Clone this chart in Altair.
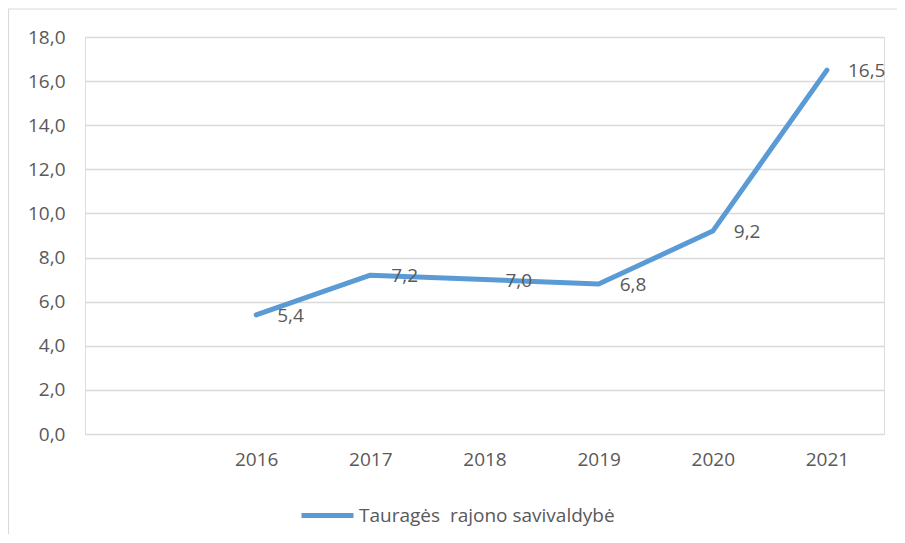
import altair as alt
import pandas as pd

years = ["2016", "2017", "2018", "2019", "2020", "2021"]
values = [5.4, 7.2, 7.0, 6.8, 9.2, 16.5]
series_name = "Tauragės\u00a0 rajono savivaldybė"
x_domain = [""] + years
y_ticks = [0, 2, 4, 6, 8, 10, 12, 14, 16, 18]

df = pd.DataFrame({"year": years, "value": values, "series": series_name})

FONT = "Open Sans"
FS = 19
TXT = "#595959"
GRID = "#D9D9D9"
BLUE = "#5B9BD5"

x_enc = alt.X(
    "year:N",
    scale=alt.Scale(domain=x_domain, type="point", padding=0.5),
    axis=alt.Axis(title=None, labelAngle=0, ticks=False, domain=False, grid=False,
                  labelFont=FONT, labelFontSize=FS, labelColor=TXT, labelPadding=16),
)
y_enc = alt.Y(
    "value:Q",
    scale=alt.Scale(domain=[0, 18], nice=False, zero=True),
    axis=alt.Axis(title=None, values=y_ticks, ticks=False, domain=False,
                  gridColor=GRID, gridWidth=1.3,
                  labelExpr="replace(format(datum.value, '.1f'), '.', ',')",
                  labelFont=FONT, labelFontSize=FS, labelColor=TXT, labelPadding=20),
)

border = alt.Chart(pd.DataFrame({"a": [0]})).mark_rect(
    fill=None, stroke=GRID, strokeWidth=1.2
).encode(
    x=alt.value(-76.5), x2=alt.value(830), y=alt.value(-28), y2=alt.value(600)
)

line = alt.Chart(df).mark_line(strokeWidth=5, strokeCap="round", strokeJoin="round").encode(
    x=x_enc,
    y=y_enc,
    color=alt.Color(
        "series:N",
        scale=alt.Scale(range=[BLUE]),
        legend=alt.Legend(
            title=None, orient="none", legendX=214, legendY=450,
            symbolType="stroke", symbolSize=2704, symbolStrokeWidth=5,
            labelFont=FONT, labelFontSize=FS, labelColor=TXT, labelOffset=3,
            labelLimit=0,
        ),
    ),
)

labels = alt.Chart(df).transform_calculate(
    lab="replace(format(datum.value, '.1f'), '.', ',')"
).mark_text(
    align="left", baseline="middle", dx=21, dy=1, font=FONT, fontSize=FS, color=TXT
).encode(x=x_enc, y=y_enc, text="lab:N")

chart = alt.layer(border, line, labels).properties(
    width=799, height=397,
    padding={"left": 77, "top": 29, "right": 13, "bottom": 100},
    autosize=alt.AutoSizeParams(type="none"),
).configure_view(stroke=None).configure(background="white")

chart.save("out.html", embed_options={"renderer": "svg", "actions": False})
